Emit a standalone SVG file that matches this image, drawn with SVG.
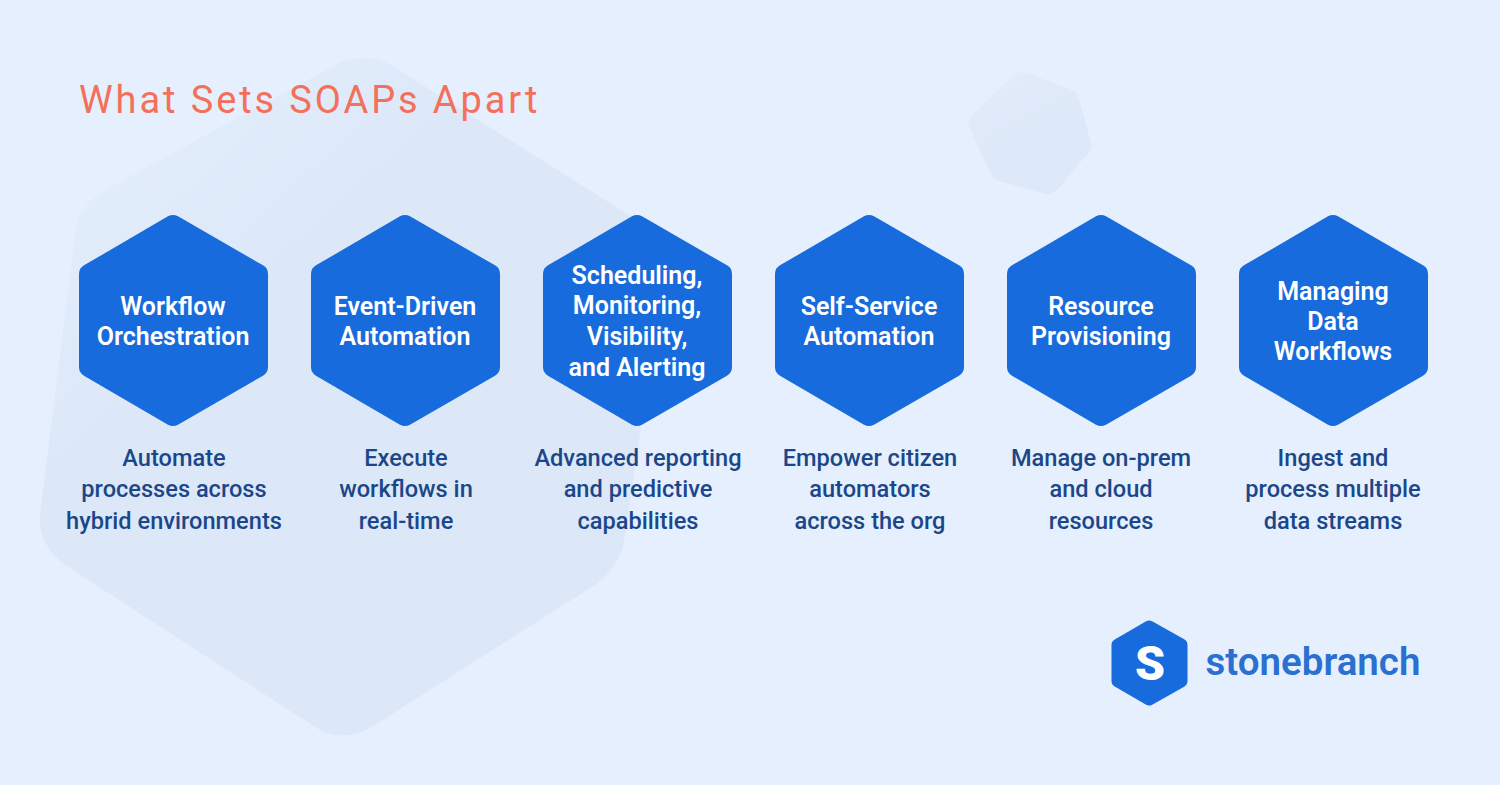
<svg xmlns="http://www.w3.org/2000/svg" width="1500" height="785" viewBox="0 0 1500 785">
<style>
.hex{fill:#176bdc;stroke:#176bdc;stroke-width:20;stroke-linejoin:round}
.t{font-family:Roboto,"Liberation Sans",sans-serif;text-anchor:middle}
.h{font-size:25px;font-weight:600;fill:#fff}
.d{font-size:23.6px;font-weight:500;fill:#1b478a}
</style>
<defs>
<polygon id="hx" class="hex" points="173,225 258,274 258,367 173,416 89,367 89,274"/>
<linearGradient id="bgg" x1="0.1" y1="0" x2="0.6" y2="0.6"><stop offset="0" stop-color="#e5effd"/><stop offset="0.55" stop-color="#dce8f8"/></linearGradient>
<linearGradient id="bgs" x1="0.2" y1="0" x2="0.6" y2="0.8"><stop offset="0" stop-color="#e2ecfb"/><stop offset="0.7" stop-color="#dde8f8"/></linearGradient>
</defs>
<rect width="1500" height="785" fill="#e5effd"/>
<path fill="url(#bgg)" d="M365,58 Q385,59 402,72 L640,222 Q666,240 664,270 L625,535 Q622,565 595,585 L375,725 Q345,745 315,727 L65,565 Q38,545 40,515 L75,235 Q78,205 105,190 L330,68 Q345,58 365,58Z"/>
<path fill="url(#bgs)" d="M1015,74 Q1021,71 1027,73 L1072,90 Q1078,93 1079,99 L1091,143 Q1092,149 1088,153 L1057,190 Q1052,195 1046,194 L999,181 Q993,179 991,174 L969,127 Q967,121 971,116Z"/>
<text class="t" x="79" y="112.5" style="text-anchor:start;font-size:38px;letter-spacing:2.9px;fill:#f4705a;font-weight:400">What Sets SOAPs Apart</text>
<g id="n1"><use href="#hx"/><text class="t h" x="173" y="314.5">Workflow</text><text class="t h" x="173" y="344.5">Orchestration</text><text class="t d" x="174" y="466">Automate</text><text class="t d" x="174" y="497">processes across</text><text class="t d" x="174" y="529">hybrid environments</text></g>
<g id="n2"><use href="#hx" x="232"/><text class="t h" x="405" y="314.5">Event-Driven</text><text class="t h" x="405" y="344.5">Automation</text><text class="t d" x="406" y="466">Execute</text><text class="t d" x="406" y="497">workflows in</text><text class="t d" x="406" y="529">real-time</text></g>
<g id="n3"><use href="#hx" x="464"/><text class="t h" x="637" y="283.5">Scheduling,</text><text class="t h" x="637" y="313.5">Monitoring,</text><text class="t h" x="637" y="344.5">Visibility,</text><text class="t h" x="637" y="375.5">and Alerting</text><text class="t d" x="638" y="466">Advanced reporting</text><text class="t d" x="638" y="497">and predictive</text><text class="t d" x="638" y="529">capabilities</text></g>
<g id="n4"><use href="#hx" x="696"/><text class="t h" x="869" y="314.5">Self-Service</text><text class="t h" x="869" y="344.5">Automation</text><text class="t d" x="870" y="466">Empower citizen</text><text class="t d" x="870" y="497">automators</text><text class="t d" x="870" y="529">across the org</text></g>
<g id="n5"><use href="#hx" x="928"/><text class="t h" x="1101" y="314.5">Resource</text><text class="t h" x="1101" y="344.5">Provisioning</text><text class="t d" x="1101" y="466">Manage on-prem</text><text class="t d" x="1101" y="497">and cloud</text><text class="t d" x="1101" y="529">resources</text></g>
<g id="n6"><use href="#hx" x="1160"/><text class="t h" x="1333" y="299.5">Managing</text><text class="t h" x="1333" y="329.5">Data</text><text class="t h" x="1333" y="359.5">Workflows</text><text class="t d" x="1333" y="466">Ingest and</text><text class="t d" x="1333" y="497">process multiple</text><text class="t d" x="1333" y="529">data streams</text></g>
<g id="logo"><polygon points="1149,627 1181,645 1181,681 1149,699 1118,681 1118,645" fill="#176bdc" stroke="#176bdc" stroke-width="13" stroke-linejoin="round"/><text class="t" x="1150" y="680" style="font-size:48px;font-weight:900;fill:#fff">S</text><text class="t" x="1313" y="675" style="font-size:38.5px;font-weight:600;fill:#2a70d0">stonebranch</text></g>
</svg>
